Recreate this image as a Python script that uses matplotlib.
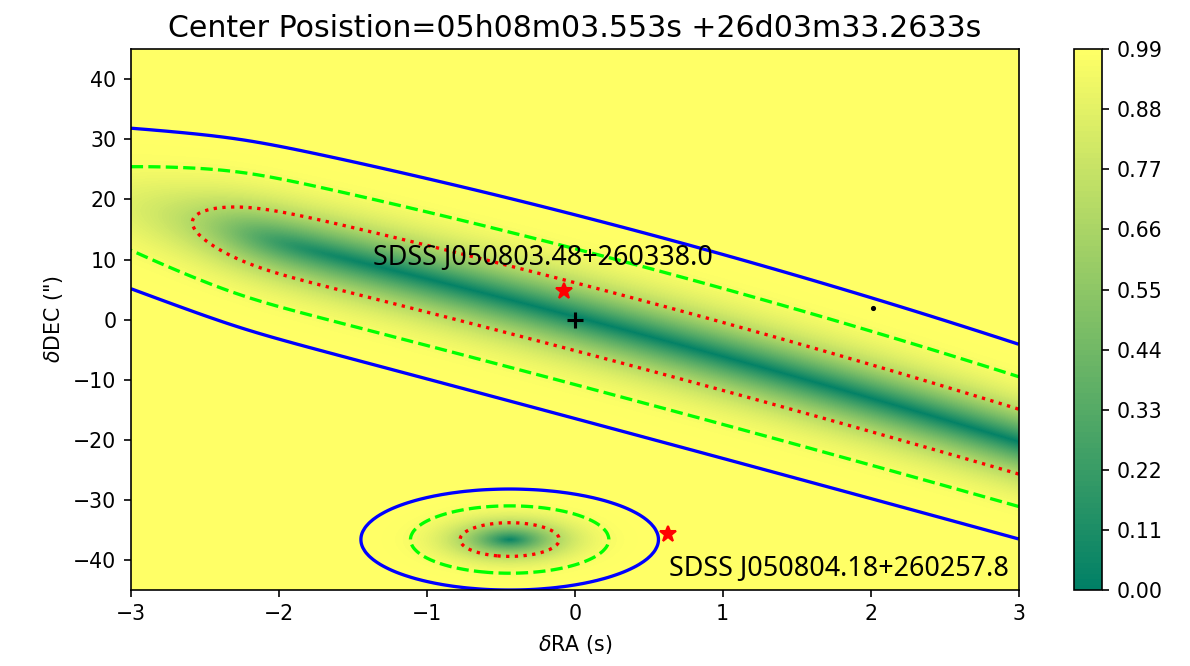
import math
import numpy as np
import matplotlib
matplotlib.use("Agg")
import matplotlib.pyplot as plt

# Sampling grid (RA offset in seconds, DEC offset in arcsec)
ra_grid = np.linspace(-3.0, 3.0, 241)
dec_grid = np.linspace(-45.0, 45.0, 361)

# Elongated error band: centre line, 1-sigma half width, and where it closes on the left
band_ra = [-3.0, 0.0, 3.0]
band_dec = [18.5, 0.5, -20.3]
band_sigma = [5.1, 5.65, 5.4]
band_end_ra = -2.25
band_end_scale = 0.35
band_end_soft = 0.15

# Compact error ellipse
ellipse_center = [-0.44, -36.6]
ellipse_sigma = [0.335, 2.8]

# Confidence levels drawn as lines (1, 2, 3 sigma)
line_levels = [0.6827, 0.9545, 0.9973]
line_colors = ["red", "lime", "blue"]
line_styles = ["dotted", "dashed", "solid"]

# Catalogue sources and the reference position
src_names = ["SDSS J050803.48+260338.0", "SDSS J050804.18+260257.8"]
src_ra = [-0.074, 0.63]
src_dec = [4.7, -35.6]
label_ra = [-1.365, 0.635]
label_dec = [10.2, -41.5]
extra_ra = [2.016]
extra_dec = [1.95]

cbar_ticks = [0.00, 0.11, 0.22, 0.33, 0.44, 0.55, 0.66, 0.77, 0.88, 0.99]

erf = np.vectorize(math.erf)

RA, DEC = np.meshgrid(ra_grid, dec_grid)

# smooth centre line and width of the band
centre = np.polyval(np.polyfit(band_ra, band_dec, 2), RA)
width = np.polyval(np.polyfit(band_ra, band_sigma, 2), RA)
z = (band_end_ra - RA) / band_end_soft
end_term = band_end_soft * np.logaddexp(0.0, z) / band_end_scale
d2_band = ((DEC - centre) / width) ** 2 + end_term
p_band = erf(np.sqrt(d2_band) / np.sqrt(2))

# probability field of the compact ellipse
d2_ell = ((RA - ellipse_center[0]) / ellipse_sigma[0]) ** 2 + ((DEC - ellipse_center[1]) / ellipse_sigma[1]) ** 2
p_ell = erf(np.sqrt(d2_ell) / np.sqrt(2))

prob = np.minimum(p_band, p_ell)

cmap = plt.get_cmap("summer")

fig = plt.figure(figsize=(1190 / 148, 666 / 148), dpi=148)
ax = fig.add_axes([0.110, 0.1141, 0.746, 0.812])
cax = fig.add_axes([0.9025, 0.1141, 0.0235, 0.812])
ax.set_facecolor(cmap(1.0))

cf = ax.contourf(RA, DEC, prob, levels=np.linspace(0, 0.99, 100), cmap=cmap)
ax.contour(RA, DEC, prob, levels=line_levels, colors=line_colors,
           linestyles=line_styles, linewidths=1.6)

ax.plot(src_ra, src_dec, "*", color="red", ms=8, mec="red")
ax.plot([0], [0], "+", color="black", ms=8, mew=1.5)
ax.plot(extra_ra, extra_dec, ".", color="black", ms=3)

for name, x, y in zip(src_names, label_ra, label_dec):
    ax.text(x, y, name, ha="left", va="center", fontsize=13.1,
            family=["Noto Sans", "DejaVu Sans"], color="black")

ax.set_xlim(-3, 3)
ax.set_ylim(-45, 45)
ax.set_xticks([-3, -2, -1, 0, 1, 2, 3])
ax.set_yticks([-40, -30, -20, -10, 0, 10, 20, 30, 40])
ax.set_xlabel(r"$\delta$RA (s)", fontsize=10)
ax.set_ylabel(r'$\delta$DEC (")', fontsize=10)
ax.set_title("Center Posistion=05h08m03.553s +26d03m33.2633s", fontsize=14.6)

cb = fig.colorbar(cf, cax=cax, ticks=cbar_ticks, format="%.2f")

fig.savefig("out.png", dpi=148)
